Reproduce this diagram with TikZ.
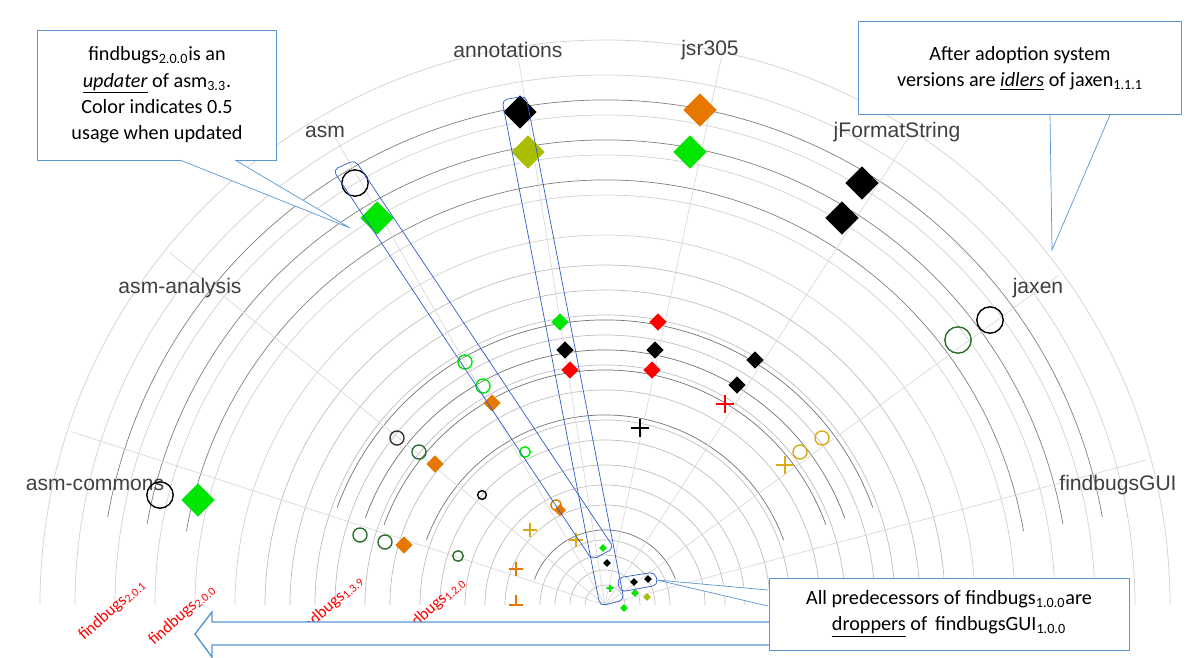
\documentclass[tikz,border=0pt]{standalone}
\usepackage{fontspec}
\setmainfont{Carlito}
\newfontfamily\axisfont{Liberation Sans}
\usetikzlibrary{positioning,shapes.geometric}
\definecolor{dgreen}{RGB}{40,110,40}
\definecolor{lgreen}{RGB}{0,230,0}
\definecolor{ygreen}{RGB}{170,190,0}
\definecolor{dorange}{RGB}{230,120,0}
\definecolor{gold}{RGB}{220,170,20}
\definecolor{callblue}{RGB}{90,150,210}
\definecolor{bandblue}{RGB}{50,90,200}
\newcommand{\vsub}[1]{\textsubscript{#1}}
\tikzset{
  dia/.style={diamond,fill=#1,inner sep=0pt,minimum size=10pt},
  bigdia/.style={diamond,fill=#1,inner sep=0pt,minimum size=19pt},
  smalldia/.style={diamond,fill=#1,inner sep=0pt,minimum size=4.5pt},
  ring/.style={circle,draw=#1,thick,inner sep=0pt,minimum size=8pt},
  bigring/.style={circle,draw=#1,thick,inner sep=0pt,minimum size=15pt},
  cross/.style={inner sep=0pt,minimum size=10pt,
    path picture={\draw[#1,thick] (path picture bounding box.north)--(path picture bounding box.south)
      (path picture bounding box.west)--(path picture bounding box.east);}},
  axislabel/.style={font=\axisfont\fontsize{12}{14}\selectfont,text=black!75},
  callout/.style={draw=callblue,fill=white,align=center,font=\fontsize{11.5}{15}\selectfont},
  vers/.style={text=red,font=\fontsize{9.5}{11}\selectfont},
  band/.style={draw=bandblue,rounded corners=3}
}
\begin{document}
\begin{tikzpicture}[x=0.02cm,y=-0.02cm]
\useasboundingbox (0,0) rectangle (1200,657);
\coordinate (c) at (605,605);
% radial grid
\begin{scope}
\clip (0,0) rectangle (1200,607);
\foreach \r in {20,35,50,65,100,120,140,165,185,215,240,270,290,315,340}
  \draw[black!25] (c) ++(0:\r) arc (0:-180:\r);
\foreach \r in {370,410,450,490,530,565}
  \draw[black!18] (c) ++(0:\r) arc (0:-180:\r);
\foreach \r in {75,190,235,255,285}
  \draw[black!55] (c) ++(-20:\r) arc (-20:-160:\r);
\foreach \r in {425,465,505}
  \draw[black!50] (c) ++(-10:\r) arc (-10:-170:\r);
\foreach \a in {15,36,57,78,99,120,141,162}
  \draw[black!15] (c) -- ++(-\a:560);
\end{scope}
% axis labels
\node[axislabel] (lcommons) at (95,485) {asm-commons};
\node[axislabel] (lanalysis) at (180,288) {asm-analysis};
\node[axislabel] (lasm) at (325,132) {asm};
\node[axislabel] (lannot) at (508,50) {annotations};
\node[axislabel] (ljsr) at (710,50) {jsr305};
\node[axislabel] (ljformat) at (897,132) {jFormatString};
\node[axislabel] (ljaxen) at (1038,288) {jaxen};
\node[axislabel] (lgui) at (1118,485) {findbugsGUI};
% outer versions
\node[bigdia=black] (a1) at (520,112) {};
\node[bigdia=ygreen] (a2) at (528,152) {};
\node[bigdia=dorange] (j1) at (700,110) {};
\node[bigdia=lgreen] (j2) at (690,152) {};
\node[bigdia=black] (f1) at (862,183) {};
\node[bigdia=black] (f2) at (842,218) {};
\node[bigdia=lgreen] (s2) at (377,218) {};
\node[bigdia=lgreen] (m2) at (198,500) {};
\node[bigring=black] (s1) at (355,183) {};
\node[bigring=black] (m1) at (160,495) {};
\node[bigring=black] (x1) at (990,320) {};
\node[bigring=dgreen] (x2) at (958,340) {};
% middle versions
\node[dia=lgreen] at (560,322) {};
\node[dia=black] at (565,350) {};
\node[dia=red] at (570,370) {};
\node[dia=red] at (658,322) {};
\node[dia=black] at (655,350) {};
\node[dia=red] at (652,370) {};
\node[dia=black] at (755,360) {};
\node[dia=black] at (737,385) {};
\node[dia=dorange] at (492,403) {};
\node[dia=dorange] at (435,464) {};
\node[dia=dorange] at (404,545) {};
\node[dia=dorange,minimum size=7pt] at (560,510) {};
\node[cross=red] at (725,404) {};
\node[cross=black] at (640,428) {};
\node[cross=gold] at (785,465) {};
\node[cross=gold,minimum size=8pt] at (530,530) {};
\node[cross=gold,minimum size=8pt] at (576,540) {};
\node[cross=dorange,minimum size=8pt] at (516,569) {};
\draw[dorange,thick] (509,605) -- (523,605) (516,605) -- (516,595);
\node[ring=gold] at (822,438) {};
\node[ring=gold] at (800,452) {};
\node[ring=lgreen] at (465,362) {};
\node[ring=lgreen] at (483,386) {};
\node[ring=lgreen,minimum size=6pt] at (525,452) {};
\node[ring=dorange,minimum size=6pt] at (556,505) {};
\node[ring=black!80] at (397,438) {};
\node[ring=dgreen] at (419,452) {};
\node[ring=black,minimum size=5pt] at (482,495) {};
\node[ring=dgreen] at (360,535) {};
\node[ring=dgreen] at (385,542) {};
\node[ring=dgreen,minimum size=6pt] at (458,556) {};
% inner versions
\node[smalldia=lgreen] at (603,548) {};
\node[smalldia=black] at (607,563) {};
\node[cross=lgreen,minimum size=4pt] at (610,588) {};
\node[smalldia=black] (g1) at (634,582) {};
\node[smalldia=black] (g2) at (648,579) {};
\node[smalldia=lgreen] at (635,593) {};
\node[smalldia=ygreen] at (647,597) {};
\node[smalldia=lgreen] at (624,608) {};
% highlight bands
\draw[band] (333,170) -- (355,160) -- (614,548) -- (592,560) -- cycle;
\draw[band] (502,100) -- (526,96) -- (624,600) -- (600,606) -- cycle;
\draw[band] (617,578) -- (655,572) -- (658,585) -- (620,592) -- cycle;
\coordinate (bandtip) at (657,580);
% version labels
\node[vers,rotate=42] at (112,610) {findbugs\vsub{2.0.1}};
\node[vers,rotate=42] at (182,615) {findbugs\vsub{2.0.0}};
\node[vers,rotate=42] at (330,606) {findbugs\vsub{1.3.9}};
\node[vers,rotate=42] at (432,608) {findbugs\vsub{1.2.0}};
\node[vers] at (622,630) {findbugs\vsub{0.9.4}};
% direction arrow
\draw[callblue,thick,fill=white] (770,622) -- (770,645) -- (212,645) -- (212,657)
  -- (195,634) -- (212,612) -- (212,622) -- cycle;
% callouts
\node[callout,minimum width=136pt,minimum height=74pt] (updater) at (157,95)
  {findbugs\vsub{2.0.0}is an\\\underline{\emph{updater}} of asm\vsub{3.3}.\\Color indicates 0.5\\usage when updated};
\node[callout,minimum width=184pt,minimum height=53pt] (idlers) at (1020,68)
  {After adoption system\\versions are \underline{\emph{idlers}} of jaxen\vsub{1.1.1}};
\node[callout,minimum width=205pt,minimum height=41pt] (droppers) at (949,614)
  {All predecessors of findbugs\vsub{1.0.0}are\\\underline{droppers} of \,findbugsGUI\vsub{1.0.0}};
\coordinate (p1) at (350,228);
\coordinate (p2) at (1052,250);
\draw[callblue,fill=white] (180,160) -- (p1) -- (235,160);
\draw[callblue,fill=white] (1050,115) -- (p2) -- (1110,115);
\draw[callblue,fill=white] (768,590) -- (bandtip) -- (768,606);
\end{tikzpicture}
\end{document}
